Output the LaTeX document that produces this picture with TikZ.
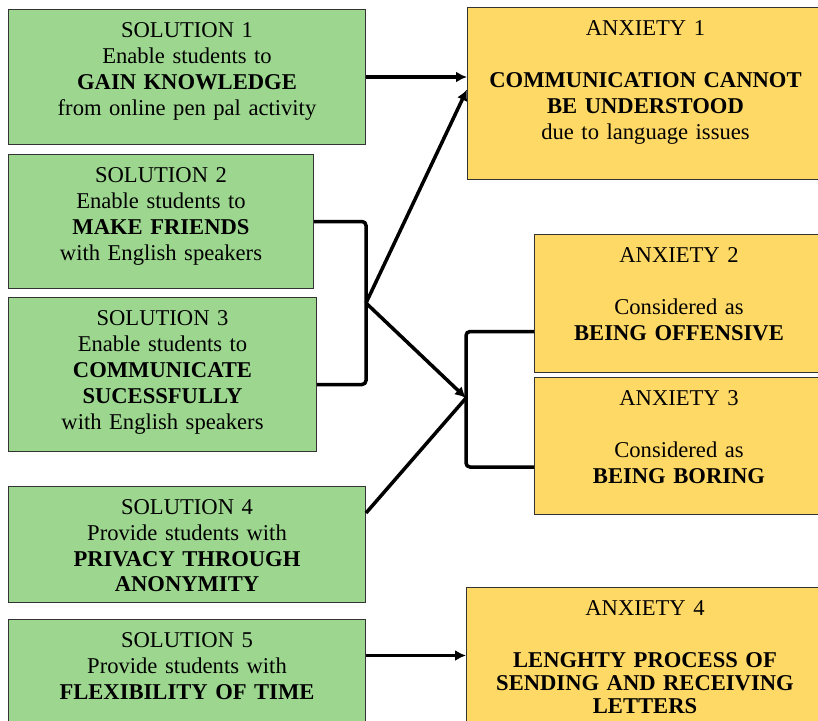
\documentclass[tikz,border=0pt]{standalone}
\usepackage{fontspec}
\setmainfont{Liberation Serif}
\usetikzlibrary{arrows.meta}

\definecolor{solgreen}{RGB}{157,215,143}
\definecolor{anxyellow}{RGB}{255,217,102}

\tikzset{
    box/.style={draw=black!80, line width=1pt, anchor=north west, inner sep=0pt,
        align=center, text height=28pt, font=\fontsize{22.6}{26}\selectfont},
    solbox/.style={box, fill=solgreen},
    anxbox/.style={box, fill=anxyellow},
    link/.style={line width=3.5pt, rounded corners=4pt},
    arr/.style={line width=3.5pt, -{Latex[length=11pt,width=11pt]}},
}

\begin{document}
\begin{tikzpicture}[x=1pt, y=-1pt]
        \clip (0, 0) rectangle (818, 720);
        % solutions
        \node[solbox, text width=357pt, text depth=107pt] (s1) at (8, 9)
            {SOLUTION 1\\Enable students to\\\textbf{GAIN KNOWLEDGE}\\from online pen pal activity};
        \node[solbox, text width=305pt, text depth=106pt] (s2) at (8, 154)
            {SOLUTION 2\\Enable students to\\\textbf{MAKE FRIENDS}\\with English speakers};
        \node[solbox, text width=308pt, text depth=126pt] (s3) at (8, 297)
            {SOLUTION 3\\Enable students to\\\textbf{COMMUNICATE}\\\textbf{SUCESSFULLY}\\with English speakers};
        \node[solbox, text width=357pt, text depth=88pt] (s4) at (8, 486)
            {SOLUTION 4\\Provide students with\\\textbf{PRIVACY THROUGH}\\[-1pt]\textbf{ANONYMITY}};
        \node[solbox, text width=357pt, text depth=92pt] (s5) at (8, 619)
            {SOLUTION 5\\Provide students with\\\textbf{FLEXIBILITY OF TIME}};
        % anxieties
        \node[anxbox, text width=356pt, text depth=144pt] (a1) at (467, 7)
            {ANXIETY 1\\[26pt]\textbf{COMMUNICATION CANNOT}\\\textbf{BE UNDERSTOOD}\\due to language issues};
        \node[anxbox, text width=289pt, text depth=110pt] (a2) at (534, 234)
            {ANXIETY 2\\[26pt]Considered as\\\textbf{BEING OFFENSIVE}};
        \node[anxbox, text width=289pt, text depth=109pt] (a3) at (534, 377)
            {ANXIETY 3\\[26pt]Considered as\\\textbf{BEING BORING}};
        \node[anxbox, text width=357pt, text depth=122pt] (a4) at (466, 587)
            {ANXIETY 4\\[26pt]\textbf{LENGHTY PROCESS OF}\\[-3pt]\textbf{SENDING AND RECEIVING}\\[-3pt]\textbf{LETTERS}};

        \coordinate (jl) at (366, 303);
        \coordinate (jr) at (466, 398);

        \draw[arr] (s1.east) -- (s1.east -| a1.west);
        \draw[link] (s2.east) -| (jl) |- ([yshift=-10pt]s3.east);
        \draw[link] ([yshift=-28pt]a2.west) -| (jr) |- ([yshift=-21pt]a3.west);
        \draw[arr] (jl) -- ([yshift=4pt]a1.west);
        \draw[line width=3.5pt] ([yshift=-27pt]s4.north east) -- (jr);
        \draw[arr] (jl) -- (jr);
        \draw[arr] ([yshift=24pt]s5.east) -- ([yshift=24pt]s5.east -| a4.west);
    \end{tikzpicture}
\end{document}
